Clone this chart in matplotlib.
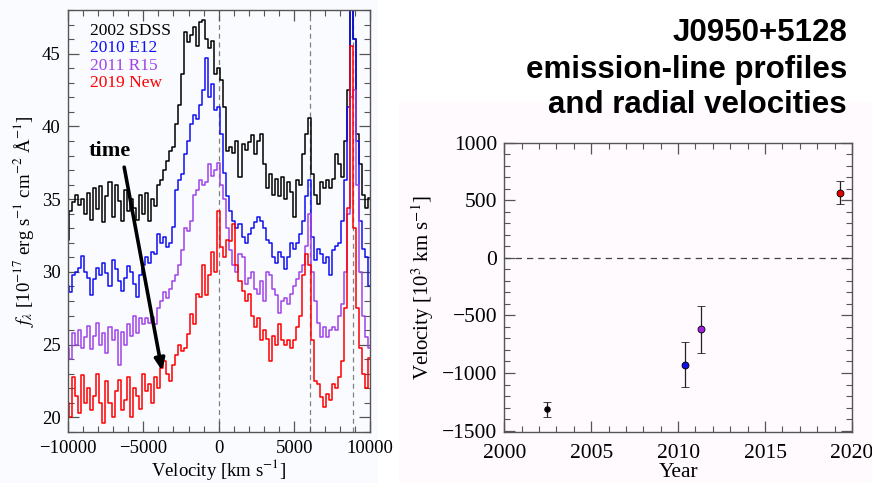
import matplotlib
matplotlib.use("Agg")
import matplotlib.pyplot as plt
from matplotlib.ticker import MultipleLocator
from matplotlib.patches import Rectangle
import numpy as np

# ---- left panel: emission-line profiles (flux every 200 km/s) ----
velocity = np.arange(-10000, 10001, 200)

flux_2002 = [32.2, 34.2, 34.8, 35.3, 34.6, 35.0, 34.0, 35.4, 33.6, 35.8,
             34.3, 35.9, 33.4, 35.2, 36.2, 33.8, 36.0, 34.9, 33.5, 35.6,
             34.2, 35.0, 34.4, 33.6, 35.3, 34.0, 35.4, 33.5, 35.0, 34.5,
             36.0, 36.3, 37.0, 37.6, 38.3, 38.6, 40.2, 41.5, 43.6, 46.5,
             45.8, 46.3, 46.8, 45.5, 47.2, 47.3, 46.0, 45.4, 45.9, 43.6,
             44.0, 43.2, 41.3, 38.3, 38.6, 38.2, 39.0, 36.5, 38.8, 38.4,
             38.9, 39.4, 38.1, 39.0, 39.5, 37.4, 35.8, 36.7, 35.3, 36.4,
             35.2, 36.5, 35.0, 36.2, 35.5, 33.8, 36.3, 36.0, 38.1, 39.5,
             40.6, 36.7, 35.3, 34.7, 36.2, 35.8, 36.3, 35.8, 36.4, 38.1,
             37.4, 36.5, 39.0, 42.5, 48.5, 46.0, 39.5, 37.4, 35.3, 34.4,
             35.1]

flux_2010 = [29.0, 28.6, 29.8, 30.0, 30.3, 31.1, 30.0, 29.6, 28.4, 29.5,
             30.3, 29.8, 30.6, 29.9, 29.0, 30.8, 30.2, 29.4, 28.7, 29.6,
             30.4, 30.0, 29.2, 28.3, 29.8, 30.5, 31.0, 30.6, 31.4, 31.2,
             32.6, 32.0, 32.4, 31.7, 32.0, 33.1, 35.6, 36.3, 36.7, 38.1,
             39.0, 40.2, 40.8, 40.5, 41.5, 42.5, 44.7, 42.0, 42.9, 41.1,
             41.3, 39.5, 36.8, 35.2, 34.2, 33.5, 33.0, 33.3, 32.4, 32.0,
             32.6, 33.0, 33.4, 33.8, 33.5, 33.0, 32.2, 32.0, 31.0, 30.6,
             31.4, 31.0, 30.2, 31.0, 32.0, 31.6, 32.0, 32.6, 33.5, 35.2,
             36.3, 32.4, 30.8, 31.6, 31.2, 30.6, 31.0, 29.8, 31.5, 31.8,
             32.0, 33.5, 36.3, 41.3, 49.0, 46.0, 39.0, 33.5, 31.6, 31.0,
             29.0]

flux_2011 = [24.8, 24.0, 25.8, 25.0, 26.0, 24.8, 25.5, 26.3, 24.7, 25.6,
             26.5, 25.0, 25.8, 24.4, 26.2, 25.3, 26.0, 23.6, 25.9, 25.0,
             26.4, 25.6, 27.0, 25.8, 26.8, 26.4, 26.8, 26.5, 26.9, 26.4,
             27.5, 28.0, 28.6, 28.2, 28.8, 29.4, 29.8, 30.5, 31.5, 33.0,
             32.8, 33.5, 35.3, 35.6, 36.3, 36.0, 36.2, 37.4, 36.6, 37.0,
             37.5, 36.0, 35.0, 33.0, 31.5, 30.5, 30.0, 31.2, 31.0, 29.2,
             29.6, 30.0, 28.8, 28.5, 29.4, 28.0, 30.0, 29.8, 28.8, 28.4,
             27.2, 28.0, 28.2, 27.8, 28.5, 29.0, 29.5, 30.0, 30.5, 31.8,
             34.0, 30.0, 28.0, 26.5, 25.5, 26.2, 25.5, 26.0, 26.2, 26.0,
             27.0, 27.8, 30.0, 34.0, 42.0, 42.5, 36.0, 30.0, 27.0, 25.5,
             24.8]

flux_2019 = [21.0, 20.0, 22.8, 21.5, 20.3, 22.9, 21.0, 22.0, 20.5, 21.5,
             23.0, 21.0, 19.6, 22.5, 21.0, 20.0, 21.8, 22.6, 20.5, 21.2,
             22.8, 20.0, 22.0, 21.5, 20.6, 23.0, 21.8, 22.3, 21.0, 22.8,
             22.0, 23.4, 23.9, 23.0, 22.5, 23.6, 24.3, 25.0, 24.6, 24.8,
             25.7, 27.1, 26.4, 28.5, 28.3, 30.5, 28.4, 29.8, 31.4, 30.0,
             34.2, 31.7, 31.0, 32.2, 32.1, 33.3, 30.5, 29.4, 28.7, 28.0,
             28.5, 27.0, 26.2, 26.8, 25.3, 26.0, 25.4, 23.9, 25.6, 25.0,
             26.4, 25.3, 25.0, 25.3, 24.8, 25.3, 26.2, 27.0, 29.8, 31.2,
             30.5, 25.3, 22.5, 22.3, 21.4, 20.7, 21.6, 21.2, 22.3, 22.0,
             22.8, 23.9, 27.5, 34.4, 45.5, 33.0, 27.5, 24.8, 23.0, 22.0,
             24.1]

spectra = [("2002 SDSS", flux_2002, "#000000"),
           ("2010 E12", flux_2010, "#1010f0"),
           ("2011 R15", flux_2011, "#a044e8"),
           ("2019 New", flux_2019, "#ff0000")]

line_marks = [0, 6000, 8850]

# ---- right panel: radial velocities ----
years = [2002.45, 2010.4, 2011.3, 2019.3]
rad_vel = [-1315, -928, -620, 565]
rad_err = [63, 198, 206, 99]
point_colors = ["#000000", "#1010e0", "#a020e0", "#e00000"]
point_sizes = [4, 5, 5, 5]

plt.rcParams["font.family"] = ["Liberation Serif", "DejaVu Serif"]
plt.rcParams["mathtext.fontset"] = "stix"

fig = plt.figure(figsize=(8.72, 4.83), dpi=100)
fig.patch.set_facecolor("white")
fig.patches.append(Rectangle((0, 0), 378 / 872, 1, transform=fig.transFigure,
                             facecolor="#f9fbfe", edgecolor="none", zorder=-10))
fig.patches.append(Rectangle((399 / 872, 0), 1 - 399 / 872, 1 - 102 / 483,
                             transform=fig.transFigure, facecolor="#fefafe",
                             edgecolor="none", zorder=-10))

frame_col = "#555555"


def style_axes(ax, xminor, yminor, size, pad):
    ax.xaxis.set_minor_locator(MultipleLocator(xminor))
    ax.yaxis.set_minor_locator(MultipleLocator(yminor))
    ax.tick_params(which="both", direction="in", top=True, right=True,
                   color=frame_col, labelsize=size)
    ax.tick_params(axis="x", pad=pad)
    ax.tick_params(axis="y", pad=5)
    ax.tick_params(which="major", length=8, width=0.9)
    ax.tick_params(which="minor", length=4.5, width=0.8)
    for sp in ax.spines.values():
        sp.set_color(frame_col)
        sp.set_linewidth(1.0)


# left: spectra
ax1 = fig.add_axes([0.0776, 0.1056, 0.3467, 0.8737])
ax1.set_facecolor("none")
for name, flux, col in spectra:
    ax1.step(velocity, flux, where="mid", color=col, lw=1.1)
for v in line_marks:
    ax1.axvline(v, color="#808080", ls=(0, (4, 3)), lw=0.9, zorder=0)
ax1.set_xlim(-10000, 10000)
ax1.set_ylim(19.0, 48.0)
ax1.set_xticks([-10000, -5000, 0, 5000, 10000])
ax1.set_xticklabels(["\u221210000", "\u22125000", "0", "5000", "10000"])
ax1.set_yticks([20, 25, 30, 35, 40, 45])
style_axes(ax1, 1000, 1, 13.5, 6)
ax1.set_xlabel("Velocity [km s$^{-1}$]", fontsize=13.5, labelpad=0)
ax1.set_ylabel("$f_\\lambda$ [10$^{-17}$ erg s$^{-1}$ cm$^{-2}$ \u00c5$^{-1}$]",
               fontsize=13.5, labelpad=4)

for i, (name, flux, col) in enumerate(spectra):
    ax1.text(0.075, 0.950 - i * 0.0408, name, color=col, fontsize=12.5,
             transform=ax1.transAxes, va="center", ha="left")

ax1.text(-7250, 38.3, "time", fontsize=16, fontweight="bold", ha="center",
         va="center")
ax1.annotate("", xy=(-3750, 23.2), xytext=(-6260, 37.2),
             arrowprops=dict(arrowstyle="-|>,head_length=0.7,head_width=0.3",
                             color="black", lw=2.6, shrinkA=0, shrinkB=0))

# right: velocities vs year
ax2 = fig.add_axes([0.5783, 0.1062, 0.3987, 0.5983])
ax2.set_facecolor("none")
ax2.axhline(0, color="#444444", ls=(0, (5, 4)), lw=0.9)
for yr, vv, ee, col, ms in zip(years, rad_vel, rad_err, point_colors, point_sizes):
    ax2.errorbar(yr, vv, yerr=ee, fmt="o", color=col, ms=ms, mec="black",
                 mew=0.6, ecolor="#222222", elinewidth=0.9, capsize=3,
                 capthick=0.9)
ax2.set_xlim(2000, 2020)
ax2.set_ylim(-1510, 1000)
ax2.set_xticks([2000, 2005, 2010, 2015, 2020])
ax2.set_yticks([-1500, -1000, -500, 0, 500, 1000])
ax2.set_yticklabels(["\u22121500", "\u22121000", "\u2212500", "0", "500", "1000"])
style_axes(ax2, 1, 100, 15.5, 9)
ax2.set_xlabel("Year", fontsize=15.5, labelpad=0)
ax2.set_ylabel("Velocity [10$^3$ km s$^{-1}$]", fontsize=15, labelpad=4)

# title block
for txt, yy in [("J0950+5128", 0.9317), ("emission-line profiles", 0.855),
                ("and radial velocities", 0.7826)]:
    fig.text(0.9713, yy, txt, ha="right", va="center", fontsize=22.5,
             fontweight="bold", family=["Liberation Sans", "DejaVu Sans"])

fig.savefig("out.png", dpi=100)
